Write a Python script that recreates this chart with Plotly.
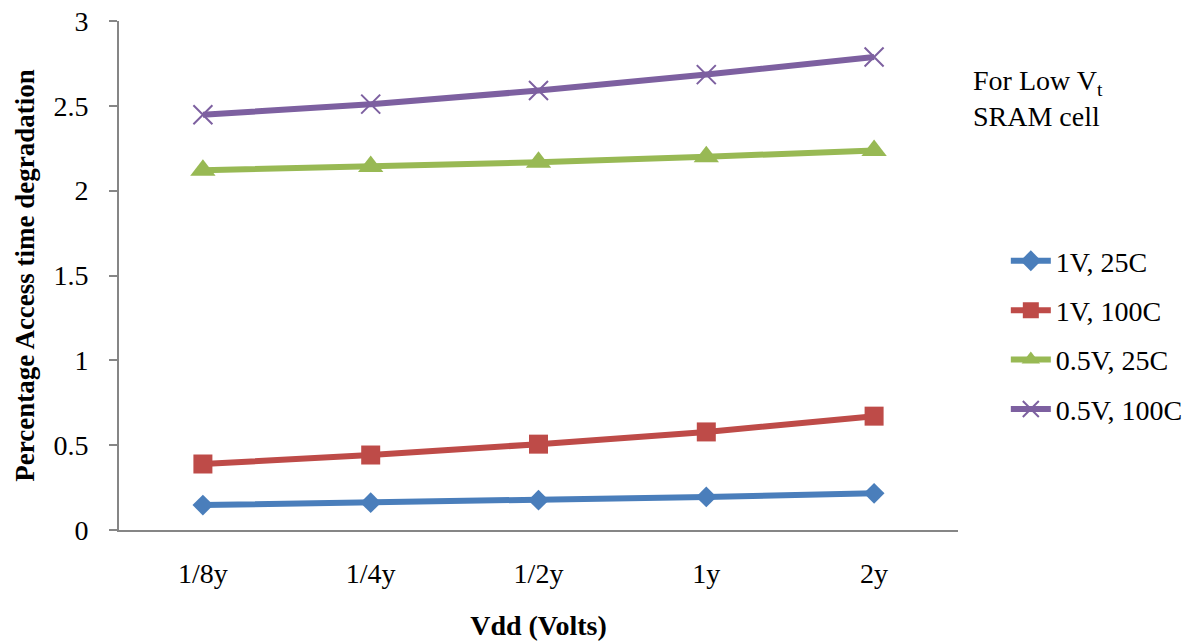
import plotly.graph_objects as go

categories = ["1/8y", "1/4y", "1/2y", "1y", "2y"]
v1_25c = [0.147, 0.161, 0.176, 0.195, 0.216]
v1_100c = [0.389, 0.442, 0.506, 0.578, 0.671]
v05_25c = [2.12, 2.143, 2.167, 2.2, 2.237]
v05_100c = [2.447, 2.51, 2.59, 2.684, 2.788]

series = [
    ("1V, 25C", v1_25c, "#4A7EBB", dict(symbol="diamond", size=16)),
    ("1V, 100C", v1_100c, "#BE4B48", dict(symbol="square", size=19)),
    ("0.5V, 25C", v05_25c, "#98B954", dict(symbol="triangle-up", size=22)),
    ("0.5V, 100C", v05_100c, "#7D60A0",
     dict(symbol="x-thin", size=19, line=dict(width=2, color="#7D60A0"))),
]

font_family = "Liberation Serif, Times New Roman, serif"

fig = go.Figure()
for i, (name, vals, color, marker) in enumerate(series):
    fig.add_trace(go.Scatter(
        x=categories, y=vals, name=name, mode="lines+markers",
        legendgroup=f"g{i}",
        line=dict(color=color, width=6),
        marker=dict(color=color, **marker),
    ))

fig.update_layout(
    width=1198, height=643,
    margin=dict(l=119, r=240, t=21, b=113, autoexpand=False),
    paper_bgcolor="white", plot_bgcolor="white",
    font=dict(family=font_family, size=28, color="black"),
    showlegend=True,
    legend=dict(x=1.057, y=0.383, xanchor="left", yanchor="middle",
                font=dict(size=28), tracegroupgap=10, itemwidth=40,
                bgcolor="rgba(0,0,0,0)"),
    xaxis=dict(
        type="category", range=[-0.5, len(categories) - 0.5],
        showgrid=False, showline=True,
        linecolor="#868686", linewidth=2, ticks="",
        ticklabelstandoff=17, tickfont=dict(size=28), automargin=False,
        title=dict(text="<b>Vdd (Volts)</b>", standoff=28,
                   font=dict(size=28)),
    ),
    yaxis=dict(
        range=[0, 3], dtick=0.5, showgrid=False, showline=True,
        linecolor="#868686", linewidth=2, ticks="outside", ticklen=8,
        tickcolor="#868686", tickwidth=2, zeroline=False,
        tickformat="~g", tickfont=dict(size=28), automargin=False,
        ticklabelstandoff=15,
        title=dict(text="<b>Percentage Access time degradation</b>",
                   standoff=11, font=dict(size=27)),
    ),
    annotations=[
        dict(text="For Low V<sub>t</sub><br>SRAM cell", xref="paper",
             yref="paper", x=1.0155, y=0.918, xanchor="left", yanchor="top",
             showarrow=False, align="left", font=dict(size=28)),
    ],
)

fig.write_html("out.html")
